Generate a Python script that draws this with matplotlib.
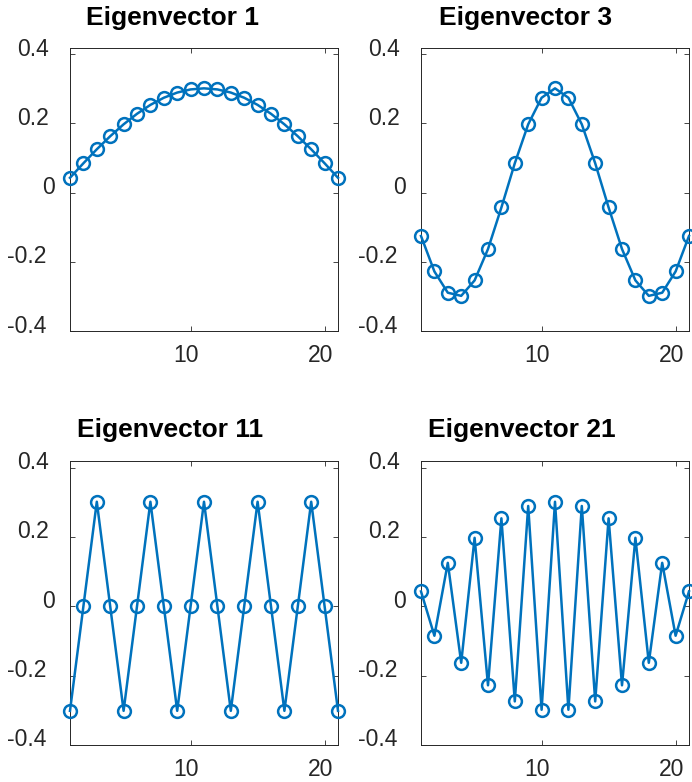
import matplotlib
matplotlib.use("Agg")
import matplotlib.pyplot as plt
from matplotlib.transforms import offset_copy

plt.rcParams['font.family'] = ['Liberation Sans', 'DejaVu Sans']

x = list(range(1, 22))

eig1 = [0.0429, 0.0849, 0.1253, 0.1630, 0.1975, 0.2279, 0.2537, 0.2743, 0.2893, 0.2984,
        0.3015,
        0.2984, 0.2893, 0.2743, 0.2537, 0.2279, 0.1975, 0.1630, 0.1253, 0.0849, 0.0429]
eig3 = [-0.1253, -0.2279, -0.2893, -0.2984, -0.2537, -0.1630, -0.0429, 0.0849, 0.1975, 0.2743,
        0.3015,
        0.2743, 0.1975, 0.0849, -0.0429, -0.1630, -0.2537, -0.2984, -0.2893, -0.2279, -0.1253]
eig11 = [-0.3015, 0.0, 0.3015, 0.0, -0.3015, 0.0, 0.3015, 0.0, -0.3015, 0.0,
         0.3015,
         0.0, -0.3015, 0.0, 0.3015, 0.0, -0.3015, 0.0, 0.3015, 0.0, -0.3015]
eig21 = [0.0429, -0.0849, 0.1253, -0.1630, 0.1975, -0.2279, 0.2537, -0.2743, 0.2893, -0.2984,
         0.3015,
         -0.2984, 0.2893, -0.2743, 0.2537, -0.2279, 0.1975, -0.1630, 0.1253, -0.0849, 0.0429]

titles = ["Eigenvector 1", "Eigenvector 3", "Eigenvector 11", "Eigenvector 21"]
series = [eig1, eig3, eig11, eig21]
xticks = [10, 20]
yticks = [-0.4, -0.2, 0, 0.2, 0.4]
ytick_labels = ["-0.4", "-0.2", "0", "0.2", "0.4"]

W, H = 692, 782
fig = plt.figure(figsize=(W / 100, H / 100), dpi=100)

# pixel boxes: (left, top, right, bottom)
boxes = [(70, 47.7, 338, 331), (421, 47.7, 689, 331),
         (70, 461, 338, 745), (421, 461, 689, 745)]
# title centre x and baseline y (pixels)
title_pos = [(172.5, 24.5), (525.5, 24.5), (170, 437.5), (522, 437.5)]
# y label right-edge offsets from axis (pixels)
ylab_dx = {"0.4": -21.5, "0.2": -21.5, "0": -15, "-0.2": -23.5, "-0.4": -23.5}

color = '#0072BD'
axcol = '#262626'
LFS = 16.5
for (l, t, r, b), title, y, tp in zip(boxes, titles, series, title_pos):
    ax = fig.add_axes([l / W, 1 - b / H, (r - l) / W, (b - t) / H])
    ax.plot(x, y, '-o', color=color, lw=1.8, markersize=9.2, markerfacecolor='none',
            markeredgewidth=1.8, clip_on=False, zorder=3)
    ax.set_xlim(1, 21)
    ax.set_ylim(-0.4, 0.419)
    ax.set_xticks(xticks)
    ax.set_yticks(yticks)
    ax.set_xticklabels([])
    ax.set_yticklabels([])
    ax.tick_params(direction='in', length=3.5, width=0.6, colors=axcol,
                   top=True, right=True)
    for s in ax.spines.values():
        s.set_color(axcol)
        s.set_linewidth(0.7)
    # y tick labels
    for val, lab in zip(yticks, ytick_labels):
        tr = offset_copy(ax.get_yaxis_transform(), fig=fig, x=ylab_dx[lab] * 0.72,
                         y=5 * 0.72, units='points')
        ax.text(0, val, lab, transform=tr, ha='right', va='center', fontsize=LFS,
                color=axcol)
    # x tick labels (baseline ~31.5 px below the axis)
    for val in xticks:
        tr = offset_copy(ax.get_xaxis_transform(), fig=fig, x=-4.5 * 0.72,
                         y=-31.5 * 0.72, units='points')
        ax.text(val, 0, str(val), transform=tr, ha='center', va='baseline', fontsize=LFS,
                color=axcol)
    fig.text(tp[0] / W, 1 - tp[1] / H, title, ha='center', va='baseline',
             fontsize=19, fontweight='bold', color='black')

fig.savefig("out.png", dpi=100)
